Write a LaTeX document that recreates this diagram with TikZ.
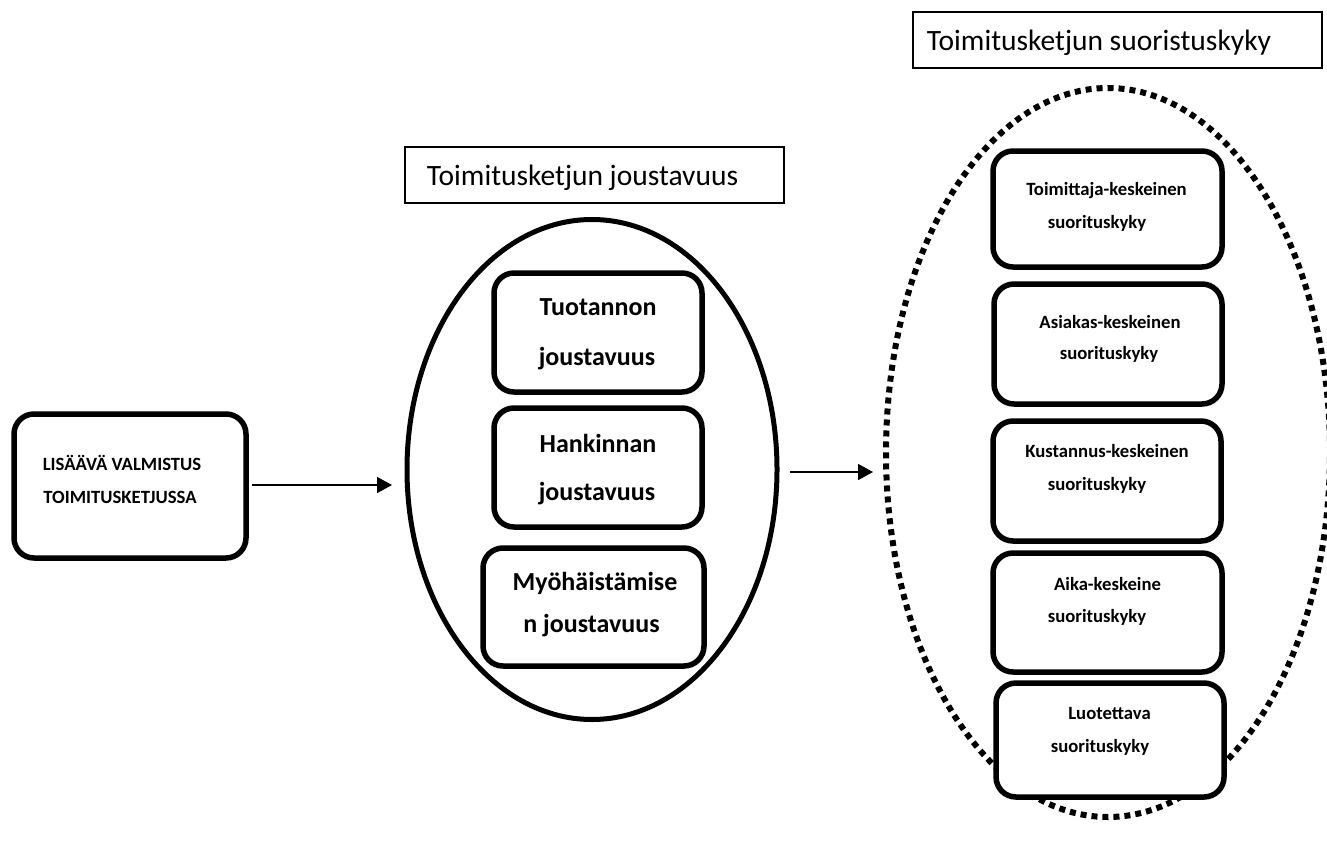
\documentclass[tikz,border=0pt]{standalone}
\usepackage{fontspec}
\setmainfont{Carlito}
\usetikzlibrary{arrows.meta,shapes.geometric}
\begin{document}
\begin{tikzpicture}[x=1pt,y=-1pt,
  rbox/.style={draw,line width=5.5pt,rounded corners=20pt,inner sep=0pt,fill=white},
  tbox/.style={draw,line width=1.3pt,inner sep=0pt},
  oval/.style={draw,ellipse,inner sep=0pt,line width=5pt},
  dotoval/.style={draw,ellipse,inner sep=0pt,line width=6pt,dash pattern=on 6pt off 5pt},
  lbl/.style={anchor=base,inner sep=0pt,font=\fontsize{18.7}{20}\selectfont\bfseries},
  big/.style={anchor=base,inner sep=0pt,font=\fontsize{26}{30}\selectfont\bfseries},
  ttl/.style={anchor=base,inner sep=0pt,font=\fontsize{29.5}{32}\selectfont},
  arr/.style={line width=1.6pt,-{Triangle[length=15pt,width=16pt]}}]
\useasboundingbox (0,0) rectangle (1327,857);

% ellipses
\node[oval,minimum width=370pt,minimum height=500pt] (mell) at (592,469.5) {};
\node[dotoval,minimum width=444pt,minimum height=729pt] (rell) at (1108,452.5) {};

% title boxes
\node[tbox,minimum width=379pt,minimum height=56pt] (mtbox) at (594.5,175) {};
\node[ttl] (mtitle) at (582.5,185) {Toimitusketjun joustavuus};
\node[tbox,minimum width=409pt,minimum height=56pt] (rtbox) at (1117.5,40) {};
\node[ttl] (rtitle) at (1099,50) {Toimitusketjun suoristuskyky};

% left box
\node[rbox,minimum width=232pt,minimum height=144pt] (lbox) at (130,486) {};
\node[lbl] (l1) at (122,470) {LISÄÄVÄ VALMISTUS};
\node[lbl] (l2) at (120,503) {TOIMITUSKETJUSSA};

% middle boxes
\node[rbox,minimum width=208pt,minimum height=119pt] (m1) at (598,332.5) {};
\node[big] (m1a) at (598,315) {Tuotannon};
\node[big] (m1b) at (597,365) {joustavuus};
\node[rbox,minimum width=208pt,minimum height=119pt] (m2) at (598,467.5) {};
\node[big] (m2a) at (598,452) {Hankinnan};
\node[big] (m2b) at (597,500) {joustavuus};
\node[rbox,minimum width=221pt,minimum height=118pt] (m3) at (593.5,607) {};
\node[big] (m3a) at (595,590) {Myöhäistämise};
\node[big] (m3b) at (591.5,632) {n joustavuus};

% right boxes
\node[rbox,minimum width=229pt,minimum height=116pt] (r1) at (1107.5,209) {};
\node[lbl] (r1a) at (1106.5,195) {Toimittaja-keskeinen};
\node[lbl] (r1b) at (1097,228) {suorituskyky};
\node[rbox,minimum width=228pt,minimum height=120pt] (r2) at (1108,344) {};
\node[lbl] (r2a) at (1110,328) {Asiakas-keskeinen};
\node[lbl] (r2b) at (1109,359) {suorituskyky};
\node[rbox,minimum width=228pt,minimum height=120pt] (r3) at (1107,481) {};
\node[lbl] (r3a) at (1107,457) {Kustannus-keskeinen};
\node[lbl] (r3b) at (1097,490) {suorituskyky};
\node[rbox,minimum width=229pt,minimum height=119pt] (r4) at (1107.5,612.5) {};
\node[lbl] (r4a) at (1107.5,590) {Aika-keskeine};
\node[lbl] (r4b) at (1097,622) {suorituskyky};
\node[rbox,minimum width=228pt,minimum height=114pt] (r5) at (1110,740) {};
\node[lbl] (r5a) at (1109.5,719) {Luotettava};
\node[lbl] (r5b) at (1100,752) {suorituskyky};

% arrows
\coordinate (a1s) at (252,485);
\coordinate (a1e) at (392,485);
\draw[arr] (a1s) -- (a1e);
\coordinate (a2s) at (790,472);
\coordinate (a2e) at (873,472);
\draw[arr] (a2s) -- (a2e);
\end{tikzpicture}
\end{document}
